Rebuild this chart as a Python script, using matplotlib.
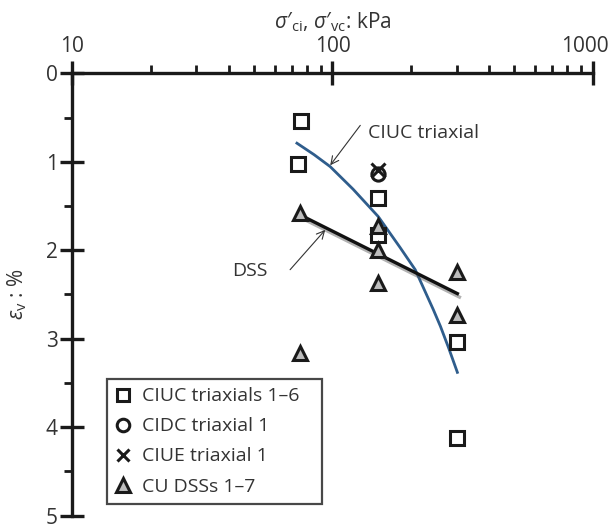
import matplotlib
matplotlib.use("Agg")
import matplotlib.pyplot as plt
import matplotlib.patheffects as pe
import matplotlib.transforms as mtransforms
from matplotlib.ticker import FixedLocator, LogLocator, NullFormatter, FixedFormatter

plt.rcParams['font.family'] = ['Open Sans', 'DejaVu Sans']
plt.rcParams['mathtext.fontset'] = 'custom'
plt.rcParams['mathtext.rm'] = 'Open Sans'
plt.rcParams['mathtext.it'] = 'Open Sans:italic'
plt.rcParams['mathtext.bf'] = 'Open Sans:bold'
plt.rcParams['mathtext.fallback'] = 'stixsans'

# Consolidation stress (kPa) and volumetric strain (%)
ciuc_x = [75.5, 73.5, 150, 150, 302, 302]
ciuc_y = [0.54, 1.03, 1.41, 1.83, 3.04, 4.12]

cidc_x = [150]
cidc_y = [1.14]

ciue_x = [150]
ciue_y = [1.09]

dss_x = [75, 75, 150, 150, 150, 302, 302]
dss_y = [1.58, 3.16, 1.73, 2.00, 2.37, 2.25, 2.73]

# Trend curves
ciuc_trend_x = [73, 85, 98, 120, 150, 182, 208, 244, 260, 280, 302]
ciuc_trend_y = [0.79, 0.92, 1.055, 1.31, 1.62, 1.97, 2.22, 2.67, 2.86, 3.11, 3.38]

dss_trend_x = [75, 302]
dss_trend_y = [1.60, 2.49]

x_ticks = [10, 100, 1000]
y_ticks = [0, 1, 2, 3, 4, 5]

fig = plt.figure(figsize=(6.10, 5.28), dpi=100)
ax = fig.add_axes([0.1185, 0.0233, 0.9716 - 0.1185, 0.8612 - 0.0233])

ax.set_xscale('log')
ax.set_xlim(10, 1000)
ax.set_ylim(5, 0)

for s in ['bottom', 'right']:
    ax.spines[s].set_visible(False)
for s in ['top', 'left']:
    ax.spines[s].set_linewidth(2.4)
    ax.spines[s].set_color('#1a1a1a')

ax.xaxis.tick_top()
ax.xaxis.set_label_position('top')
ax.xaxis.set_major_locator(FixedLocator(x_ticks))
ax.xaxis.set_major_formatter(FixedFormatter([str(t) for t in x_ticks]))
ax.xaxis.set_minor_locator(LogLocator(base=10, subs=range(2, 10)))
ax.xaxis.set_minor_formatter(NullFormatter())
ax.yaxis.set_major_locator(FixedLocator(y_ticks))
ax.yaxis.set_minor_locator(FixedLocator([0.5, 1.5, 2.5, 3.5, 4.5]))

ax.tick_params(which='major', direction='inout', length=17, width=2.4,
               color='#1a1a1a', labelsize=15, labelcolor='#333333')
ax.tick_params(axis='x', which='major', pad=3)
ax.tick_params(axis='y', which='major', pad=2)
ax.tick_params(which='minor', direction='out', length=6, width=2.0, color='#1a1a1a')

ax.set_xlabel(r"$\mathit{σ′}_{\mathrm{ci}}$, $\mathit{σ′}_{\mathrm{vc}}$: kPa",
              fontsize=15, color='#333333', labelpad=6)
ax.set_ylabel(r"$\mathit{ε}_{\mathrm{v}}$ : %", fontsize=15, color='#333333',
              labelpad=12)

fig.canvas.draw()
# keep the right-most tick label inside the figure
last = ax.xaxis.get_majorticklabels()[-1]
last.set_transform(last.get_transform() +
                   mtransforms.ScaledTranslation(-8 / 100, 0, fig.dpi_scale_trans))

blue = '#2f5d8c'
ax.plot(ciuc_trend_x, ciuc_trend_y, color=blue, lw=2.0, zorder=3)
ax.plot(dss_trend_x, dss_trend_y, color='#111111', lw=2.4, zorder=3,
        path_effects=[pe.SimpleLineShadow(offset=(1.5, -2.5), shadow_color='#555555', alpha=0.45),
                      pe.Normal()])

ms = 9.5
ax.plot(ciuc_x, ciuc_y, ls='none', marker='s', ms=ms, mfc='white', mec='#1a1a1a',
        mew=2.2, zorder=5, label='CIUC triaxials 1–6')
ax.plot(cidc_x, cidc_y, ls='none', marker='o', ms=ms, mfc='none', mec='#1a1a1a',
        mew=2.2, zorder=5, label='CIDC triaxial 1')
ax.plot(ciue_x, ciue_y, ls='none', marker='x', ms=ms, mec='#1a1a1a',
        mew=2.2, zorder=5, label='CIUE triaxial 1')
ax.plot(dss_x, dss_y, ls='none', marker='^', ms=ms + 1, mfc='#bdbdbd', mec='#1a1a1a',
        mew=2.2, zorder=5, label='CU DSSs 1–7')

ax.annotate('CIUC triaxial', xy=(98, 1.04), xytext=(137, 0.68), fontsize=14,
            color='#333333', va='center', ha='left',
            arrowprops=dict(arrowstyle='->', color='#333333', lw=0.8,
                            shrinkA=0, shrinkB=0, relpos=(-0.07, 0.95)))
ax.annotate('DSS', xy=(93.8, 1.77), xytext=(41, 2.23), fontsize=14,
            color='#333333', va='center', ha='left',
            arrowprops=dict(arrowstyle='->', color='#333333', lw=0.8,
                            shrinkA=0, shrinkB=0, relpos=(1.65, 0.55)))

leg_x0, leg_y0 = 106.7 / 610, 1 - 504.3 / 528
leg_w = (322.3 - 106.7) / 610
leg = ax.legend(loc='lower left', bbox_to_anchor=(leg_x0, leg_y0, leg_w, 0.1),
                bbox_transform=fig.transFigure, mode='expand', borderaxespad=0,
                fontsize=14, frameon=True, fancybox=False, edgecolor='#1a1a1a',
                handlelength=0.8, handletextpad=0.55, borderpad=0.45,
                labelspacing=0.62, markerscale=0.95, labelcolor='#333333')
leg.get_frame().set_linewidth(1.6)

fig.savefig('out.png', dpi=100)
